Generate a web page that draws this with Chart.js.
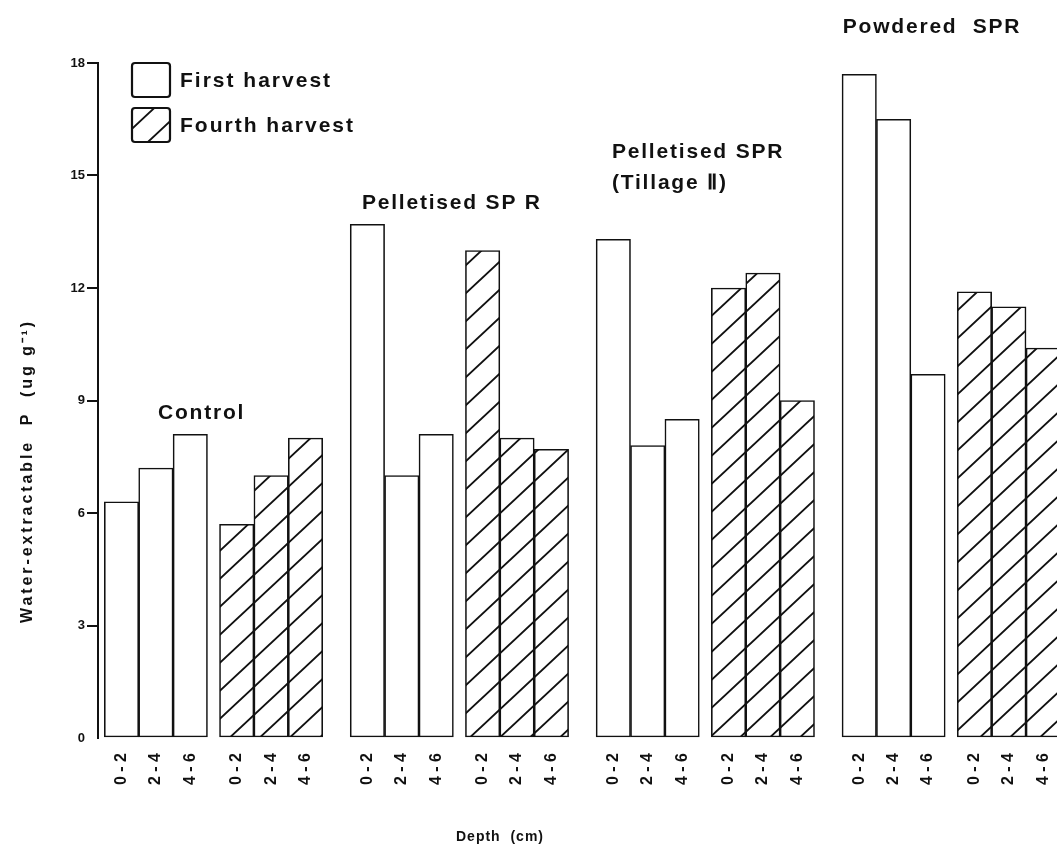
<!DOCTYPE html>
<html lang="en">
<head>
<meta charset="UTF-8">
<title>Water-extractable P by depth</title>
<script src="https://cdn.jsdelivr.net/npm/chart.js"></script>
<style>
  body { margin: 0; background: #fff; overflow: hidden; }
  #chart { display: block; }
</style>
</head>
<body>
<canvas id="chart" width="1057" height="847"></canvas>
<script>
const treatments = [['Control'], ['Pelletised SP R'], ['Pelletised SPR', '(Tillage \u2161)'], ['Powdered  SPR']];
const depths = ['0 - 2', '2 - 4', '4 - 6'];
const harvests = ['First harvest', 'Fourth harvest'];
const yTicks = [0, 3, 6, 9, 12, 15, 18];

// water-extractable P (ug/g); one row per treatment, columns are 0-2, 2-4, 4-6 cm
const firstHarvest = [
    [6.3, 7.2, 8.1],
    [13.7, 7.0, 8.1],
    [13.3, 7.8, 8.5],
    [17.7, 16.5, 9.7]
];
const fourthHarvest = [
    [5.7, 7.0, 8.0],
    [13.0, 8.0, 7.7],
    [12.0, 12.4, 9.0],
    [11.9, 11.5, 10.4]
];

// where each treatment caption sits, in x-slot / y-value units
const labelAnchors = [
    { x: 1.06, y: 8.67 },
    { x: 6.99, y: 14.27 },
    { x: 14.26, y: 15.63 },
    { x: 20.97, y: 18.96 }
];

const INK = '#111';
const FONT = '"Liberation Sans", Arial, sans-serif';

// bars in a harvest group touch; harvest groups and treatments are spread apart
const TREAT_STEP = 7.15;
const HARVEST_STEP = 3.35;
function slot(t, h, d) {
    return t * TREAT_STEP + h * HARVEST_STEP + d;
}

function series(rows, h) {
    const pts = [];
    rows.forEach((vals, t) => vals.forEach((v, d) => pts.push({ x: slot(t, h, d), y: v })));
    return pts;
}

const tickSlots = [];
treatments.forEach((_, t) => [0, 1].forEach(h => depths.forEach((_, d) => tickSlots.push(slot(t, h, d)))));
tickSlots.sort((a, b) => a - b);

function makeHatch() {
    const w = 30, h = 28;
    const c = document.createElement('canvas');
    c.width = w; c.height = h;
    const g = c.getContext('2d');
    g.fillStyle = '#fff';
    g.fillRect(0, 0, w, h);
    g.strokeStyle = INK;
    g.lineWidth = 1.9;
    g.beginPath();
    for (const off of [-w, 0, w]) {
        g.moveTo(off - w, 2 * h);
        g.lineTo(off + 2 * w, -h);
    }
    g.stroke();
    return g.createPattern(c, 'repeat');
}

const canvas = document.getElementById('chart');
const hatch = makeHatch();

function spacedText(ctx, text, x, y, font, spacing, align) {
    ctx.font = font;
    ctx.letterSpacing = spacing + 'px';
    ctx.textAlign = align || 'left';
    ctx.textBaseline = 'middle';
    ctx.fillStyle = INK;
    ctx.fillText(text, x, y);
}

const annotations = {
    id: 'annotations',
    afterDraw(chart) {
        const { ctx, scales: { x, y }, chartArea } = chart;
        ctx.save();

        // treatment captions above each block of bars
        treatments.forEach((lines, i) => {
            const a = labelAnchors[i];
            lines.forEach((line, k) => {
                spacedText(ctx, line, x.getPixelForValue(a.x), y.getPixelForValue(a.y) + k * 31,
                    'bold 21px ' + FONT, 1.8);
            });
        });

        // legend
        const lx = chartArea.left + 34;
        const ly = chartArea.top;
        ctx.lineWidth = 2.2;
        ctx.strokeStyle = INK;
        [['#fff', 0], [hatch, 45]].forEach(([fill, dy], i) => {
            ctx.beginPath();
            ctx.roundRect(lx, ly + dy, 38, 34, 3);
            ctx.fillStyle = fill;
            ctx.fill();
            ctx.stroke();
            spacedText(ctx, harvests[i], lx + 48, ly + dy + 18, 'bold 21px ' + FONT, 2);
        });

        // axis titles
        ctx.save();
        ctx.translate(28, 471);
        ctx.rotate(-Math.PI / 2);
        spacedText(ctx, 'Water-extractable  P  (ug g\u207B\u00B9)', 0, 0, 'bold 16px ' + FONT, 2.9, 'center');
        ctx.restore();
        spacedText(ctx, 'Depth  (cm)', 500, 837, 'bold 14px ' + FONT, 1, 'center');

        ctx.restore();
    }
};

const barStyle = {
    borderColor: INK,
    borderWidth: 1.6,
    borderSkipped: false,
    grouped: false,
    barPercentage: 1,
    categoryPercentage: 1
};

new Chart(canvas, {
    type: 'bar',
    data: {
        datasets: [
            Object.assign({ label: harvests[0], data: series(firstHarvest, 0), backgroundColor: '#fff' }, barStyle),
            Object.assign({ label: harvests[1], data: series(fourthHarvest, 1), backgroundColor: hatch }, barStyle)
        ]
    },
    options: {
        responsive: false,
        animation: false,
        layout: { padding: { top: 63, right: 0, bottom: 0, left: 0 } },
        plugins: {
            legend: { display: false },
            tooltip: { enabled: false }
        },
        scales: {
            x: {
                type: 'linear',
                min: -0.683,
                max: 27.2,
                offset: false,
                grid: { display: false, drawTicks: false },
                border: { display: false },
                afterBuildTicks: s => { s.ticks = tickSlots.map(v => ({ value: v })); },
                afterFit: s => {
                    s.height = 109;
                    // the rightmost bar runs off the edge, so no room is kept for its label
                    s.paddingLeft = 0;
                    s.paddingRight = 0;
                },
                ticks: {
                    autoSkip: false,
                    minRotation: 90,
                    maxRotation: 90,
                    padding: 15,
                    color: INK,
                    font: { family: FONT, weight: 'bold', size: 16 },
                    callback: (v, i) => depths[i % 3]
                }
            },
            y: {
                min: 0,
                max: 18,
                afterBuildTicks: s => { s.ticks = yTicks.map(v => ({ value: v })); },
                afterFit: s => { s.width = 98; },
                grid: {
                    drawOnChartArea: false,
                    drawTicks: true,
                    tickLength: 11,
                    lineWidth: 2,
                    color: c => c.tick && c.tick.value === 0 ? 'rgba(0,0,0,0)' : INK
                },
                border: { display: true, color: INK, width: 2 },
                ticks: {
                    padding: 2,
                    color: INK,
                    font: { family: FONT, weight: 'bold', size: 13 }
                }
            }
        }
    },
    plugins: [annotations]
});
</script>
</body>
</html>
